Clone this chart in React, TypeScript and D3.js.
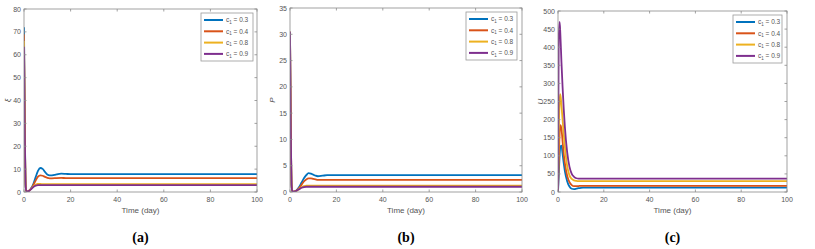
import React from "react"
import * as d3 from "d3"

// time grid (days)
const times = [0, 0.3, 0.7, 1, 1.5, 2, 2.5, 3, 4, 5, 6, 7, 8, 9, 10, 11, 12, 14, 16, 18, 20, 30, 50, 70, 100]

// (a) xi
const xi03 = [72, 35, 3, 0.5, 0.2, 0.4, 0.8, 1.5, 3.5, 6.5, 9.2, 10.5, 10.1, 8.8, 7.6, 7.25, 7.3, 7.7, 8.0, 7.9, 7.8, 7.8, 7.8, 7.8, 7.8]
const xi04 = [69, 33, 3, 0.5, 0.2, 0.4, 0.8, 1.4, 3.0, 5.0, 6.7, 7.3, 7.1, 6.6, 6.2, 6.0, 6.0, 6.1, 6.15, 6.1, 6.1, 6.1, 6.1, 6.1, 6.1]
const xi08 = [66, 31, 3, 0.5, 0.2, 0.4, 0.8, 1.3, 2.4, 3.2, 3.5, 3.5, 3.45, 3.4, 3.4, 3.4, 3.4, 3.4, 3.4, 3.4, 3.4, 3.4, 3.4, 3.4, 3.4]
const xi09 = [63.5, 30, 3, 0.5, 0.2, 0.4, 0.8, 1.2, 2.2, 2.8, 3.0, 3.0, 3.0, 3.0, 3.0, 3.0, 3.0, 3.0, 3.0, 3.0, 3.0, 3.0, 3.0, 3.0, 3.0]

// (b) P
const p03 = [30.5, 14, 1.2, 0.2, 0.05, 0.1, 0.2, 0.4, 1.0, 1.8, 2.6, 3.2, 3.6, 3.5, 3.3, 3.1, 3.0, 3.1, 3.2, 3.2, 3.2, 3.2, 3.2, 3.2, 3.2]
const p04 = [30.5, 14, 1.2, 0.2, 0.05, 0.1, 0.2, 0.35, 0.8, 1.4, 2.0, 2.4, 2.6, 2.6, 2.5, 2.4, 2.3, 2.3, 2.3, 2.3, 2.3, 2.3, 2.3, 2.3, 2.3]
const p08 = [30.5, 14, 1.2, 0.2, 0.05, 0.1, 0.2, 0.3, 0.6, 0.9, 1.1, 1.2, 1.2, 1.2, 1.2, 1.2, 1.2, 1.2, 1.2, 1.2, 1.2, 1.2, 1.2, 1.2, 1.2]
const p09 = [30.5, 14, 1.2, 0.2, 0.05, 0.1, 0.2, 0.3, 0.55, 0.8, 0.95, 1.0, 1.0, 1.0, 1.0, 1.0, 1.0, 1.0, 1.0, 1.0, 1.0, 1.0, 1.0, 1.0, 1.0]

// (c) U
const u03 = [0, 40, 100, 125, 128, 105, 80, 58, 30, 15, 9, 8, 9, 10.5, 11.5, 12, 12.3, 12.3, 12.2, 12, 12, 12, 12, 12, 12]
const u04 = [0, 80, 160, 185, 175, 140, 105, 80, 45, 27, 19, 16, 16, 16.5, 17, 17, 17, 17, 17, 17, 17, 17, 17, 17, 17]
const u08 = [0, 150, 250, 270, 240, 200, 160, 125, 72, 46, 36, 32, 30.5, 30, 30, 30, 30, 30, 30, 30, 30, 30, 30, 30, 30]
const u09 = [0, 420, 470, 440, 360, 290, 230, 180, 110, 70, 50, 42, 38, 37, 37, 37, 37, 37, 37, 37, 37, 37, 37, 37, 37]

const c1Labels = ["0.3", "0.4", "0.8", "0.9"]
const colors = ["#0072BD", "#D95319", "#EDB120", "#7E2F8E"]
const xTicks = [0, 20, 40, 60, 80, 100]

const axisColor = "#8a8a8a"
const textColor = "#555"
const font = "'Liberation Sans', Arial, sans-serif"

type PanelProps = {
  left: number
  right: number
  top: number
  bottom: number
  yMax: number
  yStep: number
  yLabel: string
  yLabelX: number
  caption: string
  series: number[][]
  legend: { x: number; y: number; w: number; h: number }
}

function Panel({ left, right, top, bottom, yMax, yStep, yLabel, yLabelX, caption, series, legend }: PanelProps) {
  const x = d3.scaleLinear().domain([0, 100]).range([left, right])
  const y = d3.scaleLinear().domain([0, yMax]).range([bottom, top])
  const yTicks = d3.range(0, yMax + yStep / 2, yStep)
  const line = d3
    .line<number>()
    .x((_, i) => x(times[i]))
    .y((d) => y(d))
    .curve(d3.curveMonotoneX)
  const tl = 2.5
  const midX = (left + right) / 2
  const midY = (top + bottom) / 2

  return (
    <g>
      <defs>
        <clipPath id={`clip-${caption}`}>
          <rect x={left} y={top - 1} width={right - left} height={bottom - top + 1} />
        </clipPath>
      </defs>
      <g clipPath={`url(#clip-${caption})`}>
        {series.map((s, i) => (
          <path key={i} d={line(s) as string} fill="none" stroke={colors[i]} strokeWidth={1.8} strokeLinejoin="round" />
        ))}
      </g>
      <rect x={left} y={top} width={right - left} height={bottom - top} fill="none" stroke={axisColor} strokeWidth={0.8} />
      {xTicks.map((t) => (
        <g key={`x${t}`}>
          <line x1={x(t)} x2={x(t)} y1={bottom} y2={bottom - tl} stroke={axisColor} strokeWidth={0.8} />
          <line x1={x(t)} x2={x(t)} y1={top} y2={top + tl} stroke={axisColor} strokeWidth={0.8} />
          <text x={x(t)} y={bottom + 10} fontSize={7} fill={textColor} textAnchor="middle" fontFamily={font}>
            {t}
          </text>
        </g>
      ))}
      {yTicks.map((t) => (
        <g key={`y${t}`}>
          <line x1={left} x2={left + tl} y1={y(t)} y2={y(t)} stroke={axisColor} strokeWidth={0.8} />
          <line x1={right} x2={right - tl} y1={y(t)} y2={y(t)} stroke={axisColor} strokeWidth={0.8} />
          <text x={left - 3} y={y(t) + 2.5} fontSize={7} fill={textColor} textAnchor="end" fontFamily={font}>
            {t}
          </text>
        </g>
      ))}
      <text x={midX} y={bottom + 21} fontSize={8} fill={textColor} textAnchor="middle" fontFamily={font}>
        Time (day)
      </text>
      <text
        transform={`translate(${yLabelX},${midY}) rotate(-90)`}
        fontSize={8}
        fill={textColor}
        textAnchor="middle"
        fontFamily={font}
        fontStyle="italic"
      >
        {yLabel}
      </text>
      <text x={midX} y={bottom + 50} fontSize={14} fontWeight="bold" fill="#000" textAnchor="middle" fontFamily="'Liberation Serif', 'Times New Roman', serif">
        ({caption})
      </text>
      <rect x={legend.x} y={legend.y} width={legend.w} height={legend.h} fill="#fff" stroke="#9a9a9a" strokeWidth={0.8} />
      {c1Labels.map((lab, i) => {
        const ly = legend.y + 7 + i * 11.3
        return (
          <g key={lab}>
            <line x1={legend.x + 3} x2={legend.x + 22} y1={ly} y2={ly} stroke={colors[i]} strokeWidth={2} />
            <text x={legend.x + 25} y={ly + 2.3} fontSize={6.5} fill={textColor} fontFamily={font}>
              c<tspan fontSize={4.5} dy={1.5}>1</tspan>
              <tspan dy={-1.5}> = {lab}</tspan>
            </text>
          </g>
        )
      })}
    </g>
  )
}

export default function App() {
  return (
    <svg
      width={815}
      height={249}
      style={{ position: "fixed", left: 0, top: 0, background: "#fff" }}
    >
      <rect width={815} height={249} fill="#fff" />
      <Panel
        left={24} right={257} top={9} bottom={192}
        yMax={80} yStep={10} yLabel="ξ" yLabelX={10}
        caption="a"
        series={[xi03, xi04, xi08, xi09]}
        legend={{ x: 201, y: 13, w: 52, h: 48 }}
      />
      <Panel
        left={290} right={522} top={8} bottom={192}
        yMax={35} yStep={5} yLabel="P" yLabelX={275}
        caption="b"
        series={[p03, p04, p08, p09]}
        legend={{ x: 466, y: 12, w: 51, h: 48 }}
      />
      <Panel
        left={558} right={787} top={11} bottom={192}
        yMax={500} yStep={50} yLabel="U" yLabelX={543}
        caption="c"
        series={[u03, u04, u08, u09]}
        legend={{ x: 733, y: 15, w: 49, h: 48 }}
      />
    </svg>
  )
}
